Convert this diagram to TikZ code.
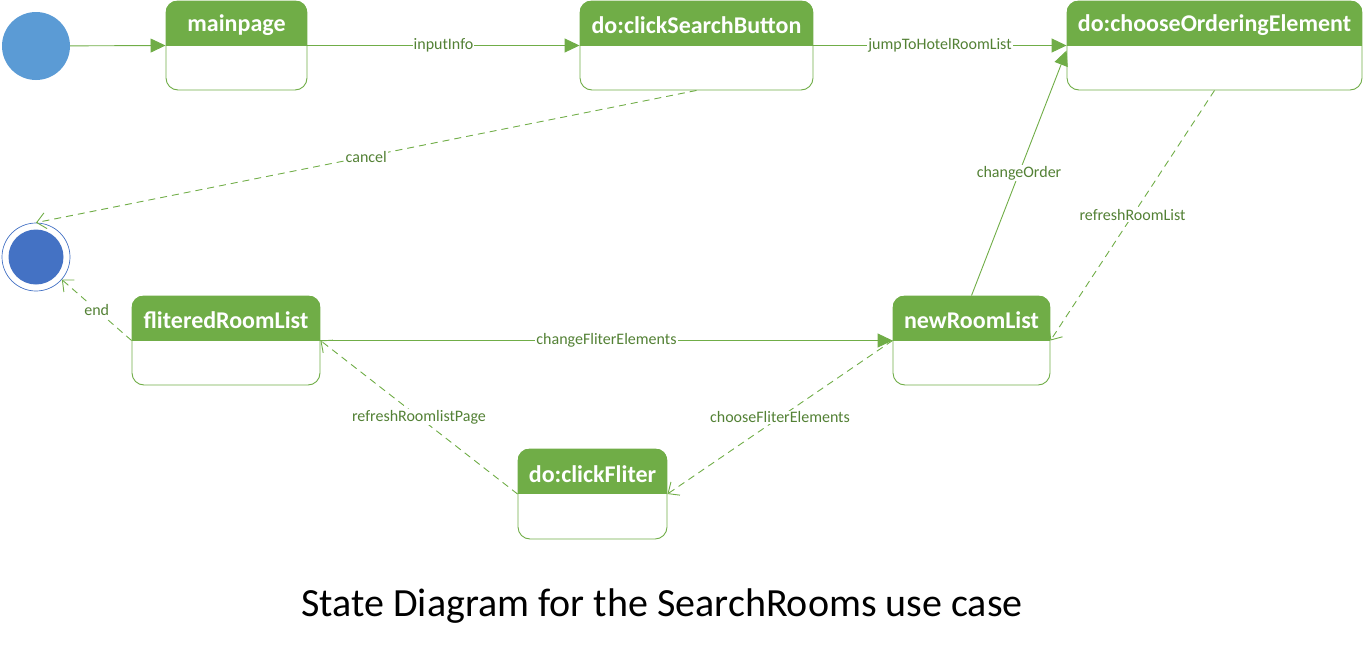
\documentclass[tikz,border=0pt]{standalone}
\usepackage{fontspec}
\setmainfont{Carlito}
\usetikzlibrary{arrows.meta,calc}
\definecolor{lg}{HTML}{70AD47}
\definecolor{dg}{HTML}{538135}
\definecolor{ib}{HTML}{5B9BD5}
\definecolor{fb}{HTML}{4472C4}
\tikzset{
  stbox/.style={draw=lg, line width=0.9pt, rounded corners=12pt, fill=white, inner sep=0pt},
  sttitle/.style={text=white, font=\fontsize{24}{28}\selectfont\bfseries, inner sep=0pt},
  lbl/.style={fill=white, text=dg, font=\fontsize{16}{19}\selectfont, inner sep=1pt},
  solidarr/.style={draw=lg, line width=0.9pt, -{Triangle[length=15pt,width=14pt]}},
  dasharr/.style={draw=lg, line width=0.9pt, dash pattern=on 7pt off 5pt, -{Straight Barb[length=9pt,width=16pt]}},
}
\newcommand\stmake[6]{%
  \node[stbox, minimum width=#4pt, minimum height=#5pt] (#1) at (#2,#3) {};
  \begin{scope}
    \clip[rounded corners=12pt] (#1.south west) rectangle (#1.north east);
    \fill[lg] (#1.north west) rectangle (#1.east);
  \end{scope}
  \node[sttitle] (#1-t) at ($(#1.north)!0.5!(#1.center)+(0,2.5)$) {#6};
}
\begin{document}
\begin{tikzpicture}[x=1pt,y=-1pt]
\useasboundingbox (0,0) rectangle (1364,651);
\node[circle, fill=ib, minimum size=68pt, inner sep=0pt] (init) at (36,46) {};
\node[circle, draw=fb, line width=0.7pt, minimum size=68pt, inner sep=0pt] (final) at (36,257) {};
\node[circle, fill=fb, minimum size=55pt, inner sep=0pt] (finalin) at (36,257) {};

\stmake{mainpage}{236.5}{45.5}{141}{89}{mainpage}
\stmake{search}{696.5}{45.5}{233}{89}{do:clickSearchButton}
\stmake{order}{1214.5}{45.5}{295}{89}{do:chooseOrderingElement}
\stmake{filtered}{226}{340.5}{188}{89}{fliteredRoomList}
\stmake{newroom}{971.5}{340.5}{157}{89}{newRoomList}
\stmake{fliter}{592.5}{494}{149}{90}{do:clickFliter}

\draw[solidarr] (init) -- (mainpage.west);
\draw[solidarr] (mainpage.east) -- node[lbl]{inputInfo} (search.west);
\draw[solidarr] (search.east) -- node[lbl]{jumpToHotelRoomList} (order.west);
\draw[dasharr] (search.south) -- node[lbl]{cancel} (final.north);
\draw[dasharr] (order.south) -- node[lbl]{refreshRoomList} (newroom.east);
\draw[solidarr] (newroom.north) -- node[lbl]{changeOrder} ([yshift=-5pt]order.west);
\draw[dasharr] (filtered.west) -- node[lbl]{end} (final);
\draw[solidarr] (filtered.east) -- node[lbl]{changeFliterElements} (newroom.west);
\draw[dasharr] (fliter.west) -- node[lbl]{refreshRoomlistPage} (filtered.east);
\draw[dasharr] (newroom.west) -- node[lbl]{chooseFliterElements} (fliter.east);

\node[font=\fontsize{40}{46}\selectfont, inner sep=0pt] (title) at (662,606) {State Diagram for the SearchRooms use case};
\end{tikzpicture}
\end{document}
